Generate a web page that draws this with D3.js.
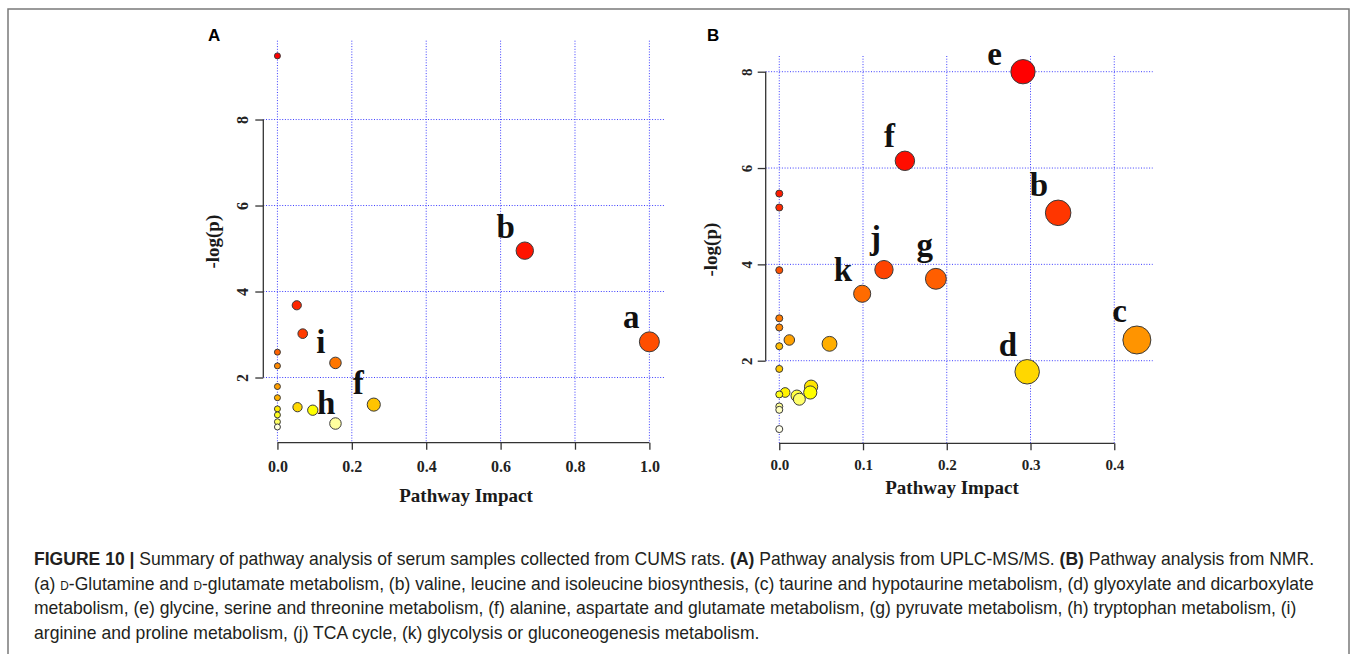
<!DOCTYPE html>
<html>
<head>
<meta charset="utf-8">
<script src="https://cdn.jsdelivr.net/npm/d3@7"></script>
<style>
  body { margin: 0; background: #fff; }
  svg { display: block; }
  .tick text { font-family: "Liberation Serif", "Times New Roman", serif; font-weight: bold; fill: #222; }
  .axis-title { font-family: "Liberation Serif", "Times New Roman", serif; font-weight: bold; font-size: 19px; fill: #1a1a1a; }
  .pt-label { font-family: "Liberation Serif", "Times New Roman", serif; font-weight: bold; font-size: 33px; fill: #111; }
  .panel-tag { font-family: "Liberation Sans", Arial, sans-serif; font-weight: bold; font-size: 17px; fill: #000; }
  .caption { font-family: "Liberation Sans", Arial, sans-serif; font-size: 18px; fill: #231f20; }
</style>
</head>
<body>
<svg id="fig" width="1357" height="654"></svg>
<script>
// Panel A: UPLC-MS/MS pathway analysis (sorted by -log(p))
const impactA = [0, 0.665, 0.052, 0.068, 1.0, 0, 0.156, 0, 0, 0, 0.259, 0.054, 0, 0.095, 0, 0, 0.156, 0];
const logpA   = [9.48, 4.95, 3.68, 3.02, 2.83, 2.59, 2.34, 2.27, 1.79, 1.53, 1.37, 1.31, 1.27, 1.24, 1.13, 0.97, 0.93, 0.85];
const labelsA = ["", "b", "", "", "a", "", "i", "", "", "", "f", "", "", "", "", "", "h", ""];
const xTicksA = [0, 0.2, 0.4, 0.6, 0.8, 1.0];
const yTicksA = [2, 4, 6, 8];
const xDomainA = [-0.038, 1.042];
const yDomainA = [0.484, 9.833];

// Panel B: NMR pathway analysis
const impactB = [0.291, 0.150, 0, 0, 0.333, 0.125, 0, 0.187, 0.099, 0, 0, 0.427, 0.012, 0.060, 0, 0, 0.296, 0.038, 0.007, 0.037, 0, 0.021, 0.024, 0, 0, 0];
const logpB   = [8.00, 6.15, 5.47, 5.18, 5.07, 3.89, 3.88, 3.70, 3.39, 2.88, 2.69, 2.43, 2.43, 2.35, 2.30, 1.83, 1.77, 1.46, 1.34, 1.34, 1.30, 1.27, 1.20, 1.05, 0.98, 0.58];
const labelsB = ["e", "f", "", "", "b", "j", "", "g", "k", "", "", "c", "", "", "", "", "d", "", "", "", "", "", "", "", "", ""];
const xTicksB = [0, 0.1, 0.2, 0.3, 0.4];
const yTicksB = [2, 4, 6, 8];
const xDomainB = [-0.0162, 0.4459];
const yDomainB = [0.285, 8.326];

const svg = d3.select("#fig");
svg.append("rect").attr("width", 1357).attr("height", 654).attr("fill", "#fff");

// R-like heat.colors(n)
function hsv(h, s, v) {
  const f = n => { const k = (n + h * 6) % 6; return v - v * s * Math.max(0, Math.min(k, 4 - k, 1)); };
  return d3.rgb(255 * f(5), 255 * f(3), 255 * f(1)).formatHex();
}
function heatColors(n) {
  const j = Math.floor(n / 4), i = n - j;
  const cols = d3.range(i).map(k => hsv(i > 1 ? (k / (i - 1)) / 6 : 0, 1, 1));
  const sat = d3.scaleLinear().domain([0, Math.max(1, j - 1)]).range([1 - 1 / (2 * j), 1 / (2 * j)]);
  d3.range(j).forEach(k => cols.push(hsv(1 / 6, sat(k), 1)));
  return cols;
}

const panels = [
  { tag: "A", tagX: 208, impact: impactA, logp: logpA, labels: labelsA,
    xTicks: xTicksA, yTicks: yTicksA, xDomain: xDomainA, yDomain: yDomainA,
    left: 263.3, right: 665, top: 40.7, bottom: 442.7, rRange: [3, 10], tickFont: 16,
    xLabY: 29.5, yLabX: -15.5, xTitleX: 466, xTitleY: 502, yTitleX: 219,
    nudge: { h: [10, 0] } },
  { tag: "B", tagX: 707, impact: impactB, logp: logpB, labels: labelsB,
    xTicks: xTicksB, yTicks: yTicksB, xDomain: xDomainB, yDomain: yDomainB,
    left: 765.7, right: 1152.7, top: 56, bottom: 443.3, rRange: [3.5, 14], tickFont: 15,
    xLabY: 27, yLabX: -14, xTitleX: 952, xTitleY: 494, yTitleX: 717,
    nudge: { e: [-11, 9], j: [7, -7], g: [7, -8] } }
];

panels.forEach(p => {
  const x = d3.scaleLinear().domain(p.xDomain).range([p.left, p.right]);
  const y = d3.scaleLinear().domain(p.yDomain).range([p.bottom, p.top]);
  const r = d3.scaleSqrt().domain([0, d3.max(p.impact)]).range(p.rRange);

  const data = p.impact.map((v, i) => ({ impact: v, logp: p.logp[i], label: p.labels[i] }));
  // colour by rank of -log(p)
  const cols = heatColors(data.length);
  d3.range(data.length).sort((a, b) => data[b].logp - data[a].logp)
    .forEach((idx, rank) => { data[idx].color = cols[rank]; });

  const g = svg.append("g");

  // dotted blue grid
  const grid = g.append("g").attr("stroke", "#3d3dff").attr("stroke-width", 1).attr("stroke-dasharray", "1,1.7");
  grid.selectAll(".vg").data(p.xTicks).enter().append("line")
    .attr("x1", d => x(d)).attr("x2", d => x(d))
    .attr("y1", p.top).attr("y2", p.bottom);
  grid.selectAll(".hg").data(p.yTicks).enter().append("line")
    .attr("x1", p.left).attr("x2", p.right)
    .attr("y1", d => y(d)).attr("y2", d => y(d));

  // axes (R style: line only spans first..last tick)
  const xAxis = g.append("g")
    .attr("transform", `translate(0,${p.bottom})`)
    .attr("color", "#333")
    .call(d3.axisBottom(x).tickValues(p.xTicks).tickFormat(d3.format(".1f")).tickSize(7).tickSizeOuter(0));
  xAxis.select(".domain").attr("d", `M${x(p.xTicks[0])},0H${x(p.xTicks[p.xTicks.length - 1])}`).attr("stroke-width", 1.3);
  xAxis.selectAll(".tick line").attr("stroke-width", 1.3);
  xAxis.selectAll(".tick text").attr("y", p.xLabY).attr("dy", null).style("font-size", p.tickFont + "px");

  const yAxis = g.append("g")
    .attr("transform", `translate(${p.left},0)`)
    .attr("color", "#333")
    .call(d3.axisLeft(y).tickValues(p.yTicks).tickFormat(d3.format("d")).tickSize(8).tickSizeOuter(0));
  yAxis.select(".domain").attr("d", `M0,${y(p.yTicks[0])}V${y(p.yTicks[p.yTicks.length - 1])}`).attr("stroke-width", 1.3);
  yAxis.selectAll(".tick line").attr("stroke-width", 1.3);
  yAxis.selectAll(".tick text")
    .attr("x", null).attr("dy", null)
    .attr("text-anchor", "middle")
    .attr("transform", `translate(${p.yLabX},0) rotate(-90)`)
    .style("font-size", p.tickFont + "px");

  // axis titles
  g.append("text").attr("class", "axis-title")
    .attr("x", p.xTitleX).attr("y", p.xTitleY)
    .attr("text-anchor", "middle").text("Pathway Impact");
  g.append("text").attr("class", "axis-title")
    .attr("transform", `translate(${p.yTitleX},${(p.top + p.bottom) / 2}) rotate(-90)`)
    .attr("text-anchor", "middle").text("-log(p)");

  // bubbles
  g.append("g").selectAll("circle")
    .data(data)
    .enter().append("circle")
    .attr("cx", d => x(d.impact))
    .attr("cy", d => y(d.logp))
    .attr("r", d => r(d.impact))
    .attr("fill", d => d.color)
    .attr("stroke", "#3a3a3a")
    .attr("stroke-width", 1);

  // letter labels
  g.append("g").selectAll("text")
    .data(data.filter(d => d.label))
    .enter().append("text")
    .attr("class", "pt-label")
    .attr("text-anchor", "end")
    .attr("x", d => x(d.impact) - 10 + (p.nudge[d.label] || [0, 0])[0])
    .attr("y", d => y(d.logp) - r(d.impact) - 4 + (p.nudge[d.label] || [0, 0])[1])
    .text(d => d.label);

  g.append("text").attr("class", "panel-tag")
    .attr("x", p.tagX).attr("y", 40.7).text(p.tag);
});

// frame
svg.append("path")
  .attr("d", "M8,654V9H1349V654")
  .attr("fill", "none").attr("stroke", "#7a7a7a").attr("stroke-width", 1.5);

// caption
const captionLines = [
  [["FIGURE 10 |", "b"], [" Summary of pathway analysis of serum samples collected from CUMS rats. "], ["(A)", "b"],
   [" Pathway analysis from UPLC-MS/MS. "], ["(B)", "b"], [" Pathway analysis from NMR."]],
  [["(a) "], ["d", "sc"], ["-Glutamine and "], ["d", "sc"], ["-glutamate metabolism, (b) valine, leucine and isoleucine biosynthesis, (c) taurine and hypotaurine metabolism, (d) glyoxylate and dicarboxylate"]],
  [["metabolism, (e) glycine, serine and threonine metabolism, (f) alanine, aspartate and glutamate metabolism, (g) pyruvate metabolism, (h) tryptophan metabolism, (i)"]],
  [["arginine and proline metabolism, (j) TCA cycle, (k) glycolysis or gluconeogenesis metabolism."]]
];
const capBase = [565, 589.5, 614, 638.5];
const capWidth = [1281, 1282, 1263, 726];

const cap = svg.append("g").attr("class", "caption");
captionLines.forEach((segs, i) => {
  const t = cap.append("text").attr("x", 0).attr("y", 0);
  segs.forEach(s => {
    const ts = t.append("tspan").text(s[0]);
    if (s[1] === "b") ts.attr("font-weight", "bold");
    if (s[1] === "sc") ts.style("font-variant", "small-caps");
  });
  // condense each line horizontally to the reference width
  const w = t.node().getComputedTextLength();
  t.attr("transform", `translate(34,${capBase[i]}) scale(${capWidth[i] / w},1)`);
});
</script>
</body>
</html>
